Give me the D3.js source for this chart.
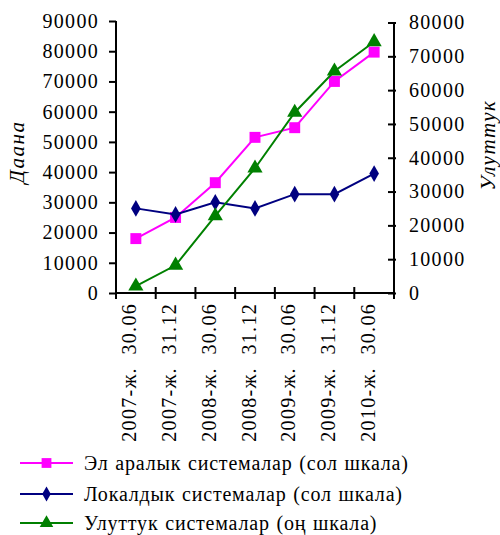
<!DOCTYPE html>
<html><head><meta charset="utf-8">
<script src="https://cdn.jsdelivr.net/npm/d3@7"></script>
<style>
body{margin:0;background:#fff;}
text{font-family:"Liberation Serif","Times New Roman",serif;fill:#000;}
</style></head>
<body><svg id="c" width="500" height="535"></svg>
<script>
const categories = ["2007-ж.  30.06","2007-ж.  31.12","2008-ж.  30.06","2008-ж.  31.12","2009-ж.  30.06","2009-ж.  31.12","2010-ж.  30.06"];
const intlValues = [18000, 25000, 36500, 51500, 54700, 70000, 79700];
const localValues = [28000, 26000, 30000, 28000, 32700, 32700, 39500];
const nationalValues = [2000, 8200, 22800, 36900, 53400, 65600, 74300];
const leftTicks = [0,10000,20000,30000,40000,50000,60000,70000,80000,90000];
const rightTicks = [0,10000,20000,30000,40000,50000,60000,70000,80000];
const seriesNames = ["Эл аралык системалар (сол шкала)","Локалдык системалар (сол шкала)","Улуттук системалар (оң шкала)"];

const svg = d3.select("#c");
const x0 = 116, x1 = 394, yTop = 21, yBot = 293;
const x = d3.scaleBand().domain(categories).range([x0, x1]);
const yL = d3.scaleLinear().domain([0, 90000]).range([yBot, yTop]);
const yR = d3.scaleLinear().domain([0, 80000]).range([yBot, yTop + 1.5]);
const fs = 20;

// left axis
const gL = svg.append("g").attr("transform", `translate(${x0},0)`)
  .call(d3.axisLeft(yL).tickValues(leftTicks).tickFormat(d3.format("d")).tickSize(7).tickPadding(10));
gL.select(".domain").attr("stroke","#000").attr("stroke-width",2).attr("d",`M0,${yTop}V${yBot}`);
gL.selectAll(".tick line").attr("stroke","#000").attr("stroke-width",2);
gL.selectAll(".tick text").attr("font-size",fs).attr("letter-spacing","1.3px").attr("font-family","Liberation Serif");

// right axis
const gR = svg.append("g").attr("transform", `translate(${x1},0)`)
  .call(d3.axisRight(yR).tickValues(rightTicks).tickFormat(d3.format("d")).tickSize(0).tickPadding(15));
gR.select(".domain").attr("stroke","#000").attr("stroke-width",2).attr("d",`M0,${yBot}V${yR(80000)}`);
gR.selectAll(".tick line").attr("stroke","#000").attr("stroke-width",2).attr("x1",-6).attr("x2",2);
gR.selectAll(".tick text").attr("font-size",fs).attr("letter-spacing","1.3px").attr("font-family","Liberation Serif");

// x axis
const gX = svg.append("g").attr("transform", `translate(0,${yBot})`);
gX.append("line").attr("x1",x0).attr("x2",x1).attr("stroke","#000").attr("stroke-width",2);
const bounds = categories.map(c => x(c)).concat([x1]);
gX.selectAll("line.tk").data(bounds).enter().append("line").attr("class","tk")
  .attr("x1",d=>d).attr("x2",d=>d).attr("y1",-6).attr("y2",6).attr("stroke","#000").attr("stroke-width",2);
gX.selectAll("text").data(categories).enter().append("text")
  .attr("transform", d => `translate(${x(d)+x.bandwidth()/2-6},10) rotate(-90)`)
  .attr("text-anchor","end").attr("dy","0.33em").attr("font-size",fs).attr("letter-spacing","1.3px")
  .style("white-space","pre").text(d=>d);

// axis titles
svg.append("text").attr("transform","translate(24,152) rotate(-90)").attr("text-anchor","middle")
  .attr("font-size",21).attr("font-style","italic").attr("letter-spacing","1.5px").text("Даана");
svg.append("text").attr("transform","translate(495,145) rotate(-90)").attr("text-anchor","middle")
  .attr("font-size",21).attr("font-style","italic").attr("letter-spacing","1.5px").text("Улуттук");

const cx = d => x(d) + x.bandwidth()/2;
const series = [
  {vals: intlValues, y: yL, color: "#FF00FF", sym: d3.symbolSquare, size: 120},
  {vals: localValues, y: yL, color: "#000080", sym: d3.symbolDiamond, size: 80},
  {vals: nationalValues, y: yR, color: "#008000", sym: d3.symbolTriangle, size: 100}
];
series.forEach(s => {
  const pts = categories.map((c,i) => [cx(c), s.y(s.vals[i])]);
  svg.append("path").attr("d", d3.line()(pts)).attr("fill","none").attr("stroke",s.color).attr("stroke-width",2);
  svg.selectAll(null).data(pts).enter().append("path")
    .attr("d", d3.symbol().type(s.sym).size(s.size))
    .attr("transform", p => `translate(${p[0]},${p[1]})`).attr("fill", s.color);
});

// legend
const legY = [463, 494, 523];
series.forEach((s,i) => {
  const g = svg.append("g").attr("transform",`translate(0,${legY[i]})`);
  g.append("line").attr("x1",20).attr("x2",73).attr("stroke",s.color).attr("stroke-width",2);
  g.append("path").attr("d", d3.symbol().type(s.sym).size(s.size*0.8)).attr("transform","translate(46.5,0)").attr("fill",s.color);
  g.append("text").attr("x",84).attr("dy","0.35em").attr("font-size",fs).attr("letter-spacing","0.8px").attr("word-spacing","1px").text(seriesNames[i]);
});
</script></body></html>
